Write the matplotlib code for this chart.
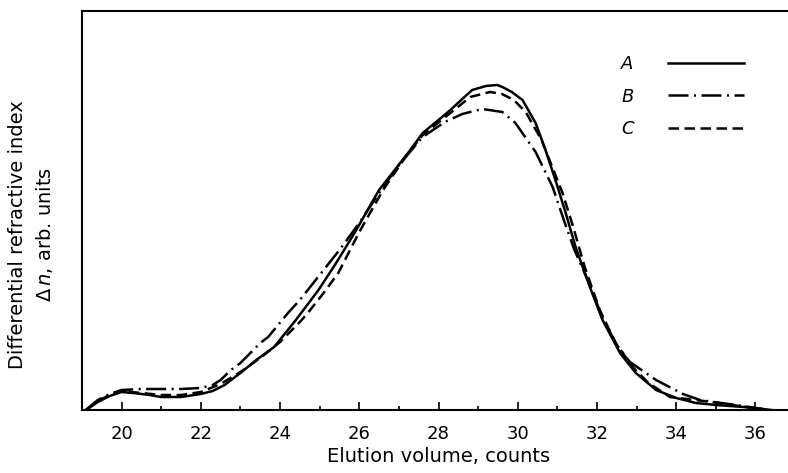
import numpy as np
import matplotlib
matplotlib.use("Agg")
import matplotlib.pyplot as plt

# ------------------------------------------------------------------------------
# Data (elution volume in counts, signal in arb. units)
# ------------------------------------------------------------------------------

x_A = [19.1, 19.4, 19.7, 20.0, 20.3, 20.7, 21.0, 21.5, 22.0, 22.3, 22.6, 23.0, 23.4,
       23.85, 24.4, 24.97, 25.4, 25.88, 26.5, 27.25, 27.6, 28.0, 28.3, 28.6, 28.85,
       29.2, 29.48, 29.61, 29.85, 30.12, 30.45, 30.7, 30.95, 31.21, 31.46, 31.82,
       32.14, 32.58, 32.98, 33.49, 34.0, 34.5, 35.0, 35.7, 36.4]
y_A = [0, 8, 14, 18, 17, 15, 13, 13, 16, 19, 25, 37, 50,
       63, 90, 120, 146, 177, 220, 258, 277, 290, 300, 311, 320,
       324, 325, 323, 318, 310, 287, 260, 230, 197, 163, 123,
       90, 57, 37, 20, 12, 7, 5, 3, 0]

x_B = [19.1, 19.4, 19.7, 20.0, 20.5, 21.0, 21.5, 22.0, 22.3, 22.5, 22.76, 23.0, 23.5,
       23.7, 24.2, 24.5, 25.0, 25.5, 26.0, 26.5, 27.0, 27.6, 28.16, 28.6, 29.1,
       29.61, 29.94, 30.45, 30.88, 31.18, 31.43, 31.82, 32.14, 32.5, 32.83, 33.49,
       34.17, 34.6, 35.5, 36.2]
y_B = [0, 10, 16, 20, 21, 21, 21, 22, 25, 30, 40, 47, 67,
       73, 97, 110, 135, 160, 187, 217, 245, 273, 288, 296, 301,
       298, 287, 258, 223, 188, 160, 125, 92, 65, 48, 30,
       16, 10, 5, 1]

x_C = [19.1, 19.4, 19.7, 20.0, 20.5, 21.0, 21.5, 22.0, 22.5, 23.0, 23.5, 24.0, 24.5,
       24.7, 25.1, 25.47, 26.0, 26.6, 27.2, 27.6, 28.3, 28.8, 29.3, 29.6, 29.9,
       30.2, 30.6, 30.9, 31.13, 31.4, 31.69, 32.07, 32.47, 32.9, 33.3, 33.84,
       34.7, 35.6, 36.3]
y_C = [0, 9, 15, 19, 17, 15, 15, 18, 26, 38, 52, 68, 88,
       97, 117, 137, 178, 220, 255, 275, 297, 313, 318, 316, 310,
       298, 270, 240, 217, 183, 143, 100, 67, 43, 27, 13,
       9, 4, 0]

x_ticks = [20, 22, 24, 26, 28, 30, 32, 34, 36]

# ------------------------------------------------------------------------------
# Plot
# ------------------------------------------------------------------------------

fig = plt.figure(figsize=(7.88, 4.73), dpi=100)
ax = fig.add_axes([0.104, 0.1332, 0.905, 0.8436])

lw = 1.8
style = dict(color='k', lw=lw, solid_joinstyle='round', dash_joinstyle='round')
ax.plot(x_A, y_A, label='A', **style)
ax.plot(x_B, y_B, dashes=(8, 2.2, 0.8, 2.2), label='B', **style)
ax.plot(x_C, y_C, dashes=(4.2, 2.2), label='C', **style)

ax.set_xlim(19, 37)
ax.set_ylim(0, 399)

ax.set_xticks(x_ticks)
ax.set_xticks(np.arange(21, 37, 2), minor=True)
ax.set_yticks([])
ax.tick_params(axis='x', which='major', direction='in', length=6, width=1.2,
               labelsize=13, pad=11)
ax.tick_params(axis='x', which='minor', direction='in', length=3, width=1.2)

for s in ['left', 'bottom', 'top']:
    ax.spines[s].set_linewidth(1.5)
ax.spines['right'].set_visible(False)

ax.set_xlabel('Elution volume, counts', fontsize=14, labelpad=3)

fig.text(0.040, 0.505, 'Differential refractive index\n$\\Delta\\,n$, arb. units',
         rotation=90, ha='center', va='center', multialignment='center',
         fontsize=14, linespacing=1.45)

leg = ax.legend(loc='upper right', bbox_to_anchor=(0.951, 0.930), frameon=False,
                markerfirst=False, handlelength=4.2, handletextpad=1.9,
                labelspacing=0.8, prop={'size': 13, 'style': 'italic'})

fig.savefig('out.png', dpi=100)
